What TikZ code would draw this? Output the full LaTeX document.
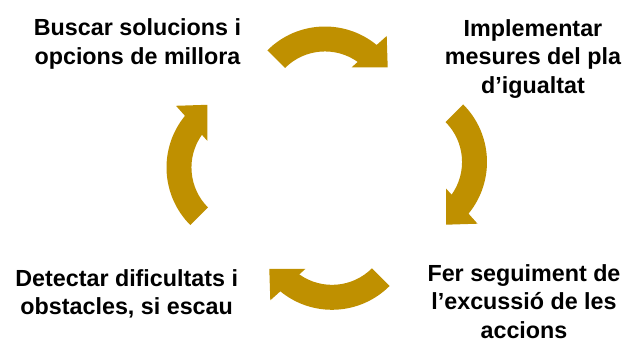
\documentclass[tikz,border=0pt]{standalone}
\usepackage{fontspec}
\setmainfont{Liberation Sans}
\definecolor{cyclegold}{RGB}{191,144,0}
\newcommand\mycyclearrow{%
  (135:81.5) arc[start angle=135, end angle=50.66, radius=81.5]
  -- (61.7,72) -- (62.7,40.7) -- (26.7,40.7) -- (32.7,46.1)
  arc[start angle=54.6, end angle=135, radius=56.5] -- cycle}
\begin{document}
\begin{tikzpicture}[x=1pt,y=1pt,
  lbl/.style={font=\bfseries\fontsize{23.3}{28.6}\selectfont, align=center, inner sep=0pt, anchor=base},
  cyc/.style={fill=cyclegold, draw=none}]
\useasboundingbox (0,0) rectangle (630,340);
\node[lbl] (tl) at (137.5,275.5) {Buscar solucions i\\opcions de millora};
\node[lbl] (tr) at (533,246.7) {Implementar\\mesures del pla\\d’igualtat};
\node[lbl] (br) at (524,1.5) {Fer seguiment de\\l’excussió de les\\accions};
\node[lbl] (bl) at (126.7,25) {Detectar dificultats i\\obstacles, si escau};
\begin{scope}[shift={(325,232)}]
  \fill[cyc] \mycyclearrow;
\end{scope}
\begin{scope}[shift={(405.5,178)}, rotate=-90]
  \fill[cyc] \mycyclearrow;
\end{scope}
\begin{scope}[shift={(332,111.7)}, rotate=180]
  \fill[cyc] \mycyclearrow;
\end{scope}
\begin{scope}[shift={(248,172.5)}, rotate=90]
  \fill[cyc] \mycyclearrow;
\end{scope}
\end{tikzpicture}
\end{document}
